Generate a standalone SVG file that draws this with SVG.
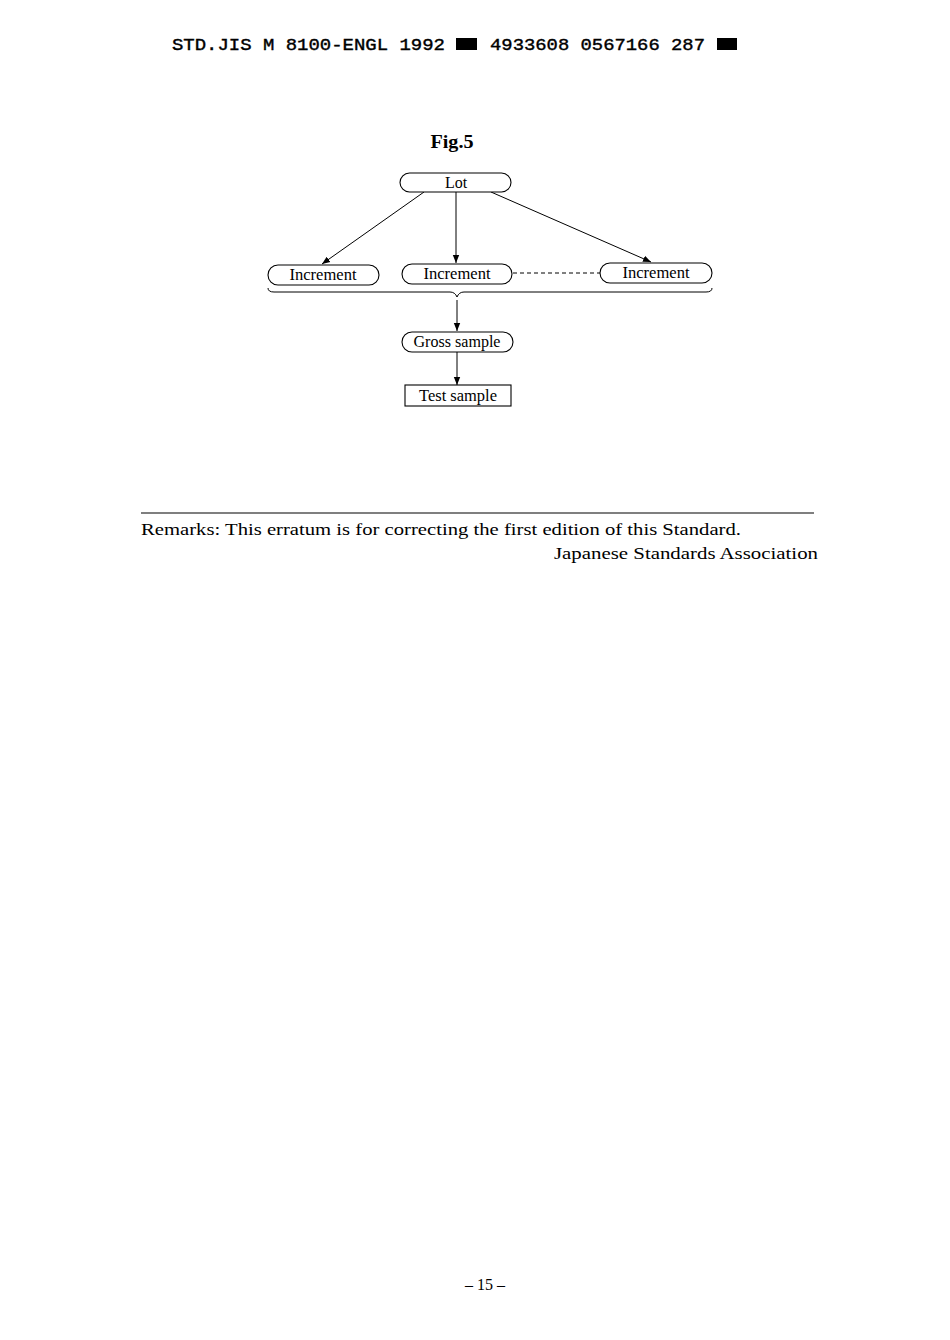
<svg xmlns="http://www.w3.org/2000/svg" width="950" height="1340" viewBox="0 0 950 1340">
<defs>
<style>
.hdr{font-family:"Liberation Mono","DejaVu Sans Mono",monospace;font-size:17px;fill:#000;stroke:#000;stroke-width:0.4;}
.lbl{font-family:"Liberation Serif","Times New Roman",serif;font-size:16px;fill:#000;text-anchor:middle;}
.txt{font-family:"Liberation Serif","Times New Roman",serif;font-size:17.5px;fill:#000;}
.box{fill:#fff;stroke:#000;stroke-width:1.1;}
.con{fill:none;stroke:#000;stroke-width:1;}
.dash{fill:none;stroke:#000;stroke-width:1;stroke-dasharray:4,3;}
</style>
<marker id="ah" viewBox="0 0 10 10" refX="10" refY="5" markerWidth="8" markerHeight="8" markerUnits="userSpaceOnUse" orient="auto">
<path d="M0,1 L10,5 L0,9 z" fill="#000"/>
</marker>
</defs>
<rect x="0" y="0" width="950" height="1340" fill="#fff"/>
<g id="header">
<text class="hdr" x="172" y="50" textLength="273" lengthAdjust="spacingAndGlyphs">STD.JIS M 8100-ENGL 1992</text>
<rect x="456" y="38" width="21" height="12" fill="#000"/>
<text class="hdr" x="490" y="50" textLength="215" lengthAdjust="spacingAndGlyphs">4933608 0567166 287</text>
<rect x="717" y="38" width="20" height="12" fill="#000"/>
</g>
<g id="title">
<text x="452" y="148" font-family="Liberation Serif,serif" font-weight="bold" font-size="18" text-anchor="middle" textLength="43" lengthAdjust="spacingAndGlyphs">Fig.5</text>
</g>
<g id="connectors">
<line class="con" x1="424" y1="192" x2="322" y2="264" marker-end="url(#ah)"/>
<line class="con" x1="456" y1="192" x2="456" y2="263" marker-end="url(#ah)"/>
<line class="con" x1="491" y1="192" x2="651" y2="262" marker-end="url(#ah)"/>
<line class="dash" x1="513" y1="273" x2="600" y2="273"/>
<path class="con" d="M268,288 Q268,292 274,292 L450,292 Q455,292 457,297 Q459,292 464,292 L706,292 Q712,292 712,288"/>
<line class="con" x1="457" y1="300" x2="457" y2="331" marker-end="url(#ah)"/>
<line class="con" x1="457" y1="352" x2="457" y2="385" marker-end="url(#ah)"/>
</g>
<g id="lot">
<rect class="box" x="400" y="173" width="111" height="19" rx="9.5"/>
<text class="lbl" x="456" y="188">Lot</text>
</g>
<g id="increment1">
<rect class="box" x="268" y="265" width="111" height="20" rx="10"/>
<text class="lbl" x="323" y="280" textLength="67" lengthAdjust="spacingAndGlyphs">Increment</text>
</g>
<g id="increment2">
<rect class="box" x="402" y="264" width="110" height="20" rx="10"/>
<text class="lbl" x="457" y="279" textLength="67" lengthAdjust="spacingAndGlyphs">Increment</text>
</g>
<g id="increment3">
<rect class="box" x="600" y="263" width="112" height="20" rx="10"/>
<text class="lbl" x="656" y="278" textLength="67" lengthAdjust="spacingAndGlyphs">Increment</text>
</g>
<g id="gross">
<rect class="box" x="402" y="332" width="111" height="20" rx="10"/>
<text class="lbl" x="457" y="347" textLength="87" lengthAdjust="spacingAndGlyphs">Gross sample</text>
</g>
<g id="test">
<rect class="box" x="405" y="385" width="106" height="21"/>
<text class="lbl" x="458" y="401" textLength="78" lengthAdjust="spacingAndGlyphs">Test sample</text>
</g>
<g id="footer">
<line x1="141" y1="513" x2="814" y2="513" stroke="#000" stroke-width="1.2"/>
<text class="txt" x="141" y="535" textLength="600" lengthAdjust="spacingAndGlyphs">Remarks: This erratum is for correcting the first edition of this Standard.</text>
<text class="txt" x="818" y="559" text-anchor="end" textLength="264" lengthAdjust="spacingAndGlyphs">Japanese Standards Association</text>
<text x="485" y="1290" font-family="Liberation Serif,serif" font-size="16" text-anchor="middle">– 15 –</text>
</g>
</svg>
